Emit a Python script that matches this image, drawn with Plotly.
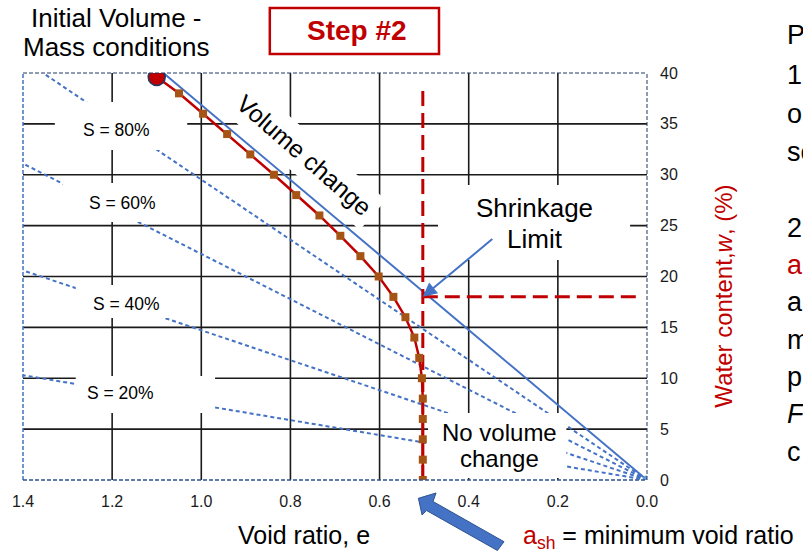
import plotly.graph_objects as go

# ---------------- data ----------------
e_test = [1.100, 1.050, 0.996, 0.942, 0.890, 0.837, 0.787, 0.735, 0.688, 0.643, 0.602,
          0.569, 0.542, 0.522, 0.511, 0.505, 0.503, 0.503, 0.503, 0.503, 0.503]
w_test = [39.6, 38, 36, 34, 32, 30, 28, 26, 24, 22, 20, 18, 16, 14, 12, 10, 8, 6, 4, 2, 0]

e_volume_change = [1.085, 0.0]
w_volume_change = [40, 0]

sat_names = ["S = 80%", "S = 60%", "S = 40%", "S = 20%"]
sat_e = [[0.0, 1.355], [0.0, 1.4], [0.0, 1.4], [0.0, 1.4]]
sat_w = [[0.0, 40.0], [0.0, 31.1], [0.0, 20.6], [0.0, 10.3]]

e_shrink = 0.503           # minimum void ratio
w_shrink = 18.0            # shrinkage limit water content
e_sl_line = [e_shrink, e_shrink]
w_sl_line = [0.0, 38.7]
e_sl_hline = [e_shrink, 0.015]
w_sl_hline = [w_shrink, w_shrink]

x_ticks = [1.4, 1.2, 1.0, 0.8, 0.6, 0.4, 0.2, 0.0]
x_ticktext = ["1.4", "1.2", "1.0", "0.8", "0.6", "0.4", "0.2", "0.0"]
y_ticks = [0, 5, 10, 15, 20, 25, 30, 35, 40]
y_ticktext = ["0", "5", "10", "15", "20", "25", "30", "35", "40"]

# ---------------- layout helpers ----------------
W, H = 803, 552
L, R, T, B = 20, 156, 73, 72
PW, PH = W - L - R, H - T - B
FONT = "Arial, Liberation Sans, sans-serif"
RED = "#C00000"
BLUE = "#4472C4"


def px(x):
    return (x - L) / PW


def py(y):
    return (H - B - y) / PH


fig = go.Figure()

for i, name in enumerate(sat_names):
    fig.add_trace(go.Scatter(x=sat_e[i], y=sat_w[i], mode="lines", name=name,
                             line=dict(color=BLUE, width=2, dash="4px,3px"),
                             hoverinfo="skip"))

fig.add_trace(go.Scatter(x=e_volume_change, y=w_volume_change, mode="lines",
                         line=dict(color=BLUE, width=2), name="Volume change"))

fig.add_trace(go.Scatter(x=e_sl_line, y=w_sl_line, mode="lines",
                         line=dict(color=RED, width=3, dash="15px,7px"), name="a_sh"))
fig.add_trace(go.Scatter(x=e_sl_hline, y=w_sl_hline, mode="lines",
                         line=dict(color=RED, width=3, dash="15px,7px"), name="SL"))

fig.add_trace(go.Scatter(x=e_test, y=w_test, mode="lines",
                         line=dict(color=RED, width=2.5), name="test"))
fig.add_trace(go.Scatter(x=e_test[1:], y=w_test[1:], mode="markers",
                         marker=dict(symbol="square", size=8, color="#A65415"),
                         name="points"))
fig.add_trace(go.Scatter(x=e_test[:1], y=w_test[:1], mode="markers",
                         marker=dict(size=17, color=RED, line=dict(color="#1F3864", width=1.5)),
                         name="initial"))
fig.add_trace(go.Scatter(x=[0.0], y=[0.0], mode="markers",
                         marker=dict(size=9, color="#5B9BD5"), name="origin"))

shapes = []
# grid lines from tick arrays
for v in x_ticks[1:-1]:
    shapes.append(dict(type="line", xref="x", yref="y", x0=v, x1=v, y0=y_ticks[0], y1=y_ticks[-1],
                       line=dict(color="#1a1a1a", width=1.6), layer="below"))
for v in y_ticks[1:-1]:
    shapes.append(dict(type="line", xref="x", yref="y", x0=x_ticks[0], x1=x_ticks[-1], y0=v, y1=v,
                       line=dict(color="#1a1a1a", width=1.6), layer="below"))

# white label boxes (pixel boxes)
boxes = [(52, 102, 185, 150), (60, 183, 180, 222), (73, 285, 195, 318), (73, 376, 213, 413),
         (437, 185, 630, 260), (427, 413, 566, 478)]
for (x0, y0, x1, y1) in boxes:
    shapes.append(dict(type="rect", xref="paper", yref="paper", x0=px(x0), x1=px(x1),
                       y0=py(y1), y1=py(y0), fillcolor="white", line=dict(width=0), layer="above"))

# plot borders (dashed)
shapes.append(dict(type="line", xref="paper", yref="paper", x0=0, x1=1, y0=1, y1=1,
                   line=dict(color="#1F3864", width=1, dash="4px,2px"), layer="above"))
shapes.append(dict(type="line", xref="paper", yref="paper", x0=1, x1=1, y0=0, y1=1,
                   line=dict(color="#1F3864", width=1, dash="4px,2px"), layer="above"))
shapes.append(dict(type="line", xref="paper", yref="paper", x0=0, x1=0, y0=0, y1=1,
                   line=dict(color=BLUE, width=1.5, dash="4px,2px"), layer="above"))
shapes.append(dict(type="line", xref="paper", yref="paper", x0=0, x1=1, y0=0, y1=0,
                   line=dict(color="#2F528F", width=1.5, dash="4px,2px"), layer="above"))

# Step #2 box
shapes.append(dict(type="rect", xref="paper", yref="paper", x0=px(268), x1=px(438),
                   y0=py(54), y1=py(8), fillcolor="white", line=dict(color=RED, width=2.5)))

# big block arrow pointing at a_sh
arrow_pts = [(417.3, 498.3), (421.0, 515.0), (425.5, 510.5), (496.7, 550.5), (503.3, 541.7),
             (432.0, 501.5), (435.0, 493.0)]
path = "M " + " L ".join(f"{px(a):.5f},{py(b):.5f}" for a, b in arrow_pts) + " Z"
shapes.append(dict(type="path", xref="paper", yref="paper", path=path,
                   fillcolor=BLUE, line=dict(color="#2F528F", width=1)))

ann = []


def text(x, y, s, size=23, color="black", angle=0, anchor="center", **kw):
    ann.append(dict(x=px(x), y=py(y), xref="paper", yref="paper", text=s, showarrow=False,
                    font=dict(family=FONT, size=size, color=color), textangle=angle,
                    xanchor=anchor, yanchor="middle", **kw))


text(114, 130, "S = 80%", 17.5)
text(120, 203, "S = 60%", 17.5)
text(124, 304, "S = 40%", 17.5)
text(118, 393, "S = 20%", 17.5)
text(534, 208, "Shrinkage", 26)
text(534, 239, "Limit", 26)
text(499, 432, "No volume", 24)
text(499, 458, "change", 24)
text(303, 155, "Volume change", 24.5, angle=41, bgcolor="white", borderpad=6)
text(114, 18, "Initial Volume -", 26)
text(113, 47, "Mass conditions", 26)
text(356, 31, "<b>Step #2</b>", 28, color=RED)
text(302, 535, "Void ratio, e", 25)
text(520, 537, f"<span style='color:{RED}'>a<sub>sh</sub></span> = minimum void ratio", 25,
     anchor="left")
text(723, 296, "Water content,<i>w</i>, (%)", 24, color=RED, angle=-90)

side_letters = ["P", "1", "o", "sc", "2", "a", "a", "m", "p", "<i>F</i>", "c"]
side_y = [35, 75, 114, 152, 228, 265, 302, 340, 377, 414, 452]
side_col = ["black"] * 5 + [RED] + ["black"] * 5
for s, yy, c in zip(side_letters, side_y, side_col):
    text(786, yy, s, 27, color=c, anchor="left")

# shrinkage limit pointer arrow
ann.append(dict(x=e_shrink, y=w_shrink, xref="x", yref="y", ax=71, ay=-59, axref="pixel",
                ayref="pixel", text="", showarrow=True, arrowhead=2, arrowsize=1.4,
                arrowwidth=2, arrowcolor=BLUE, standoff=0))

fig.update_layout(
    width=W, height=H, margin=dict(l=L, r=R, t=T, b=B),
    paper_bgcolor="white", plot_bgcolor="white", showlegend=False,
    font=dict(family=FONT, color="black"),
    shapes=shapes, annotations=ann,
    xaxis=dict(range=[x_ticks[0], x_ticks[-1]], tickvals=x_ticks, ticktext=x_ticktext,
               showgrid=False, zeroline=False, showline=False, ticks="",
               tickfont=dict(size=16, color="#1a1a1a"), ticklabelstandoff=10),
    yaxis=dict(range=[y_ticks[0], y_ticks[-1]], tickvals=y_ticks, ticktext=y_ticktext, side="right",
               showgrid=False, zeroline=False, showline=False, ticks="",
               tickfont=dict(size=16, color="#1a1a1a"), ticklabelstandoff=12),
)

fig.write_html("out.html")
